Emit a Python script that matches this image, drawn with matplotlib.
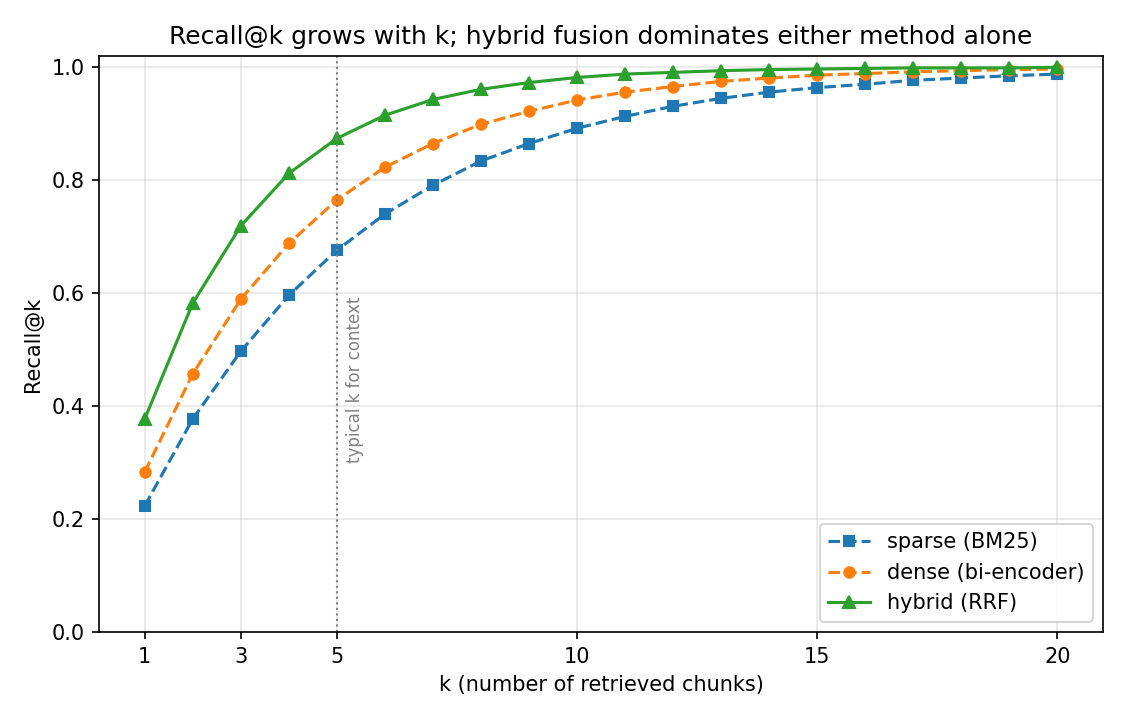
import matplotlib
matplotlib.use("Agg")
import matplotlib.pyplot as plt

k = list(range(1, 21))
sparse = [0.223, 0.377, 0.497, 0.596, 0.676, 0.740, 0.791, 0.834, 0.865, 0.892,
          0.913, 0.931, 0.945, 0.956, 0.964, 0.970, 0.977, 0.981, 0.985, 0.988]
dense = [0.283, 0.457, 0.589, 0.688, 0.765, 0.823, 0.865, 0.899, 0.922, 0.942,
         0.956, 0.966, 0.975, 0.981, 0.986, 0.989, 0.992, 0.994, 0.996, 0.997]
hybrid = [0.377, 0.582, 0.719, 0.812, 0.874, 0.915, 0.943, 0.961, 0.973, 0.982,
          0.988, 0.991, 0.994, 0.996, 0.997, 0.998, 0.999, 0.999, 0.999, 1.000]
xticks = [1, 3, 5, 10, 15, 20]

fig, ax = plt.subplots(figsize=(7.5, 4.8), dpi=150)
ax.plot(k, sparse, "s--", color="#1f77b4", markersize=5, label="sparse (BM25)")
ax.plot(k, dense, "o--", color="#ff7f0e", markersize=5, label="dense (bi-encoder)")
ax.plot(k, hybrid, "^-", color="#2ca02c", markersize=6, label="hybrid (RRF)")
ax.axvline(5, color="gray", linestyle=":", linewidth=1)
ax.text(5.2, 0.3, "typical k for context", rotation=90, color="gray",
        fontsize=8, ha="left", va="bottom")
ax.set_ylim(0, 1.02)
ax.set_xticks(xticks)
ax.grid(alpha=0.3)
ax.set_xlabel("k (number of retrieved chunks)")
ax.set_ylabel("Recall@k")
ax.set_title("Recall@k grows with k; hybrid fusion dominates either method alone")
ax.legend(loc="lower right")
fig.subplots_adjust(left=0.088, right=0.9804, top=0.9222, bottom=0.1222)
fig.savefig("out.png")
